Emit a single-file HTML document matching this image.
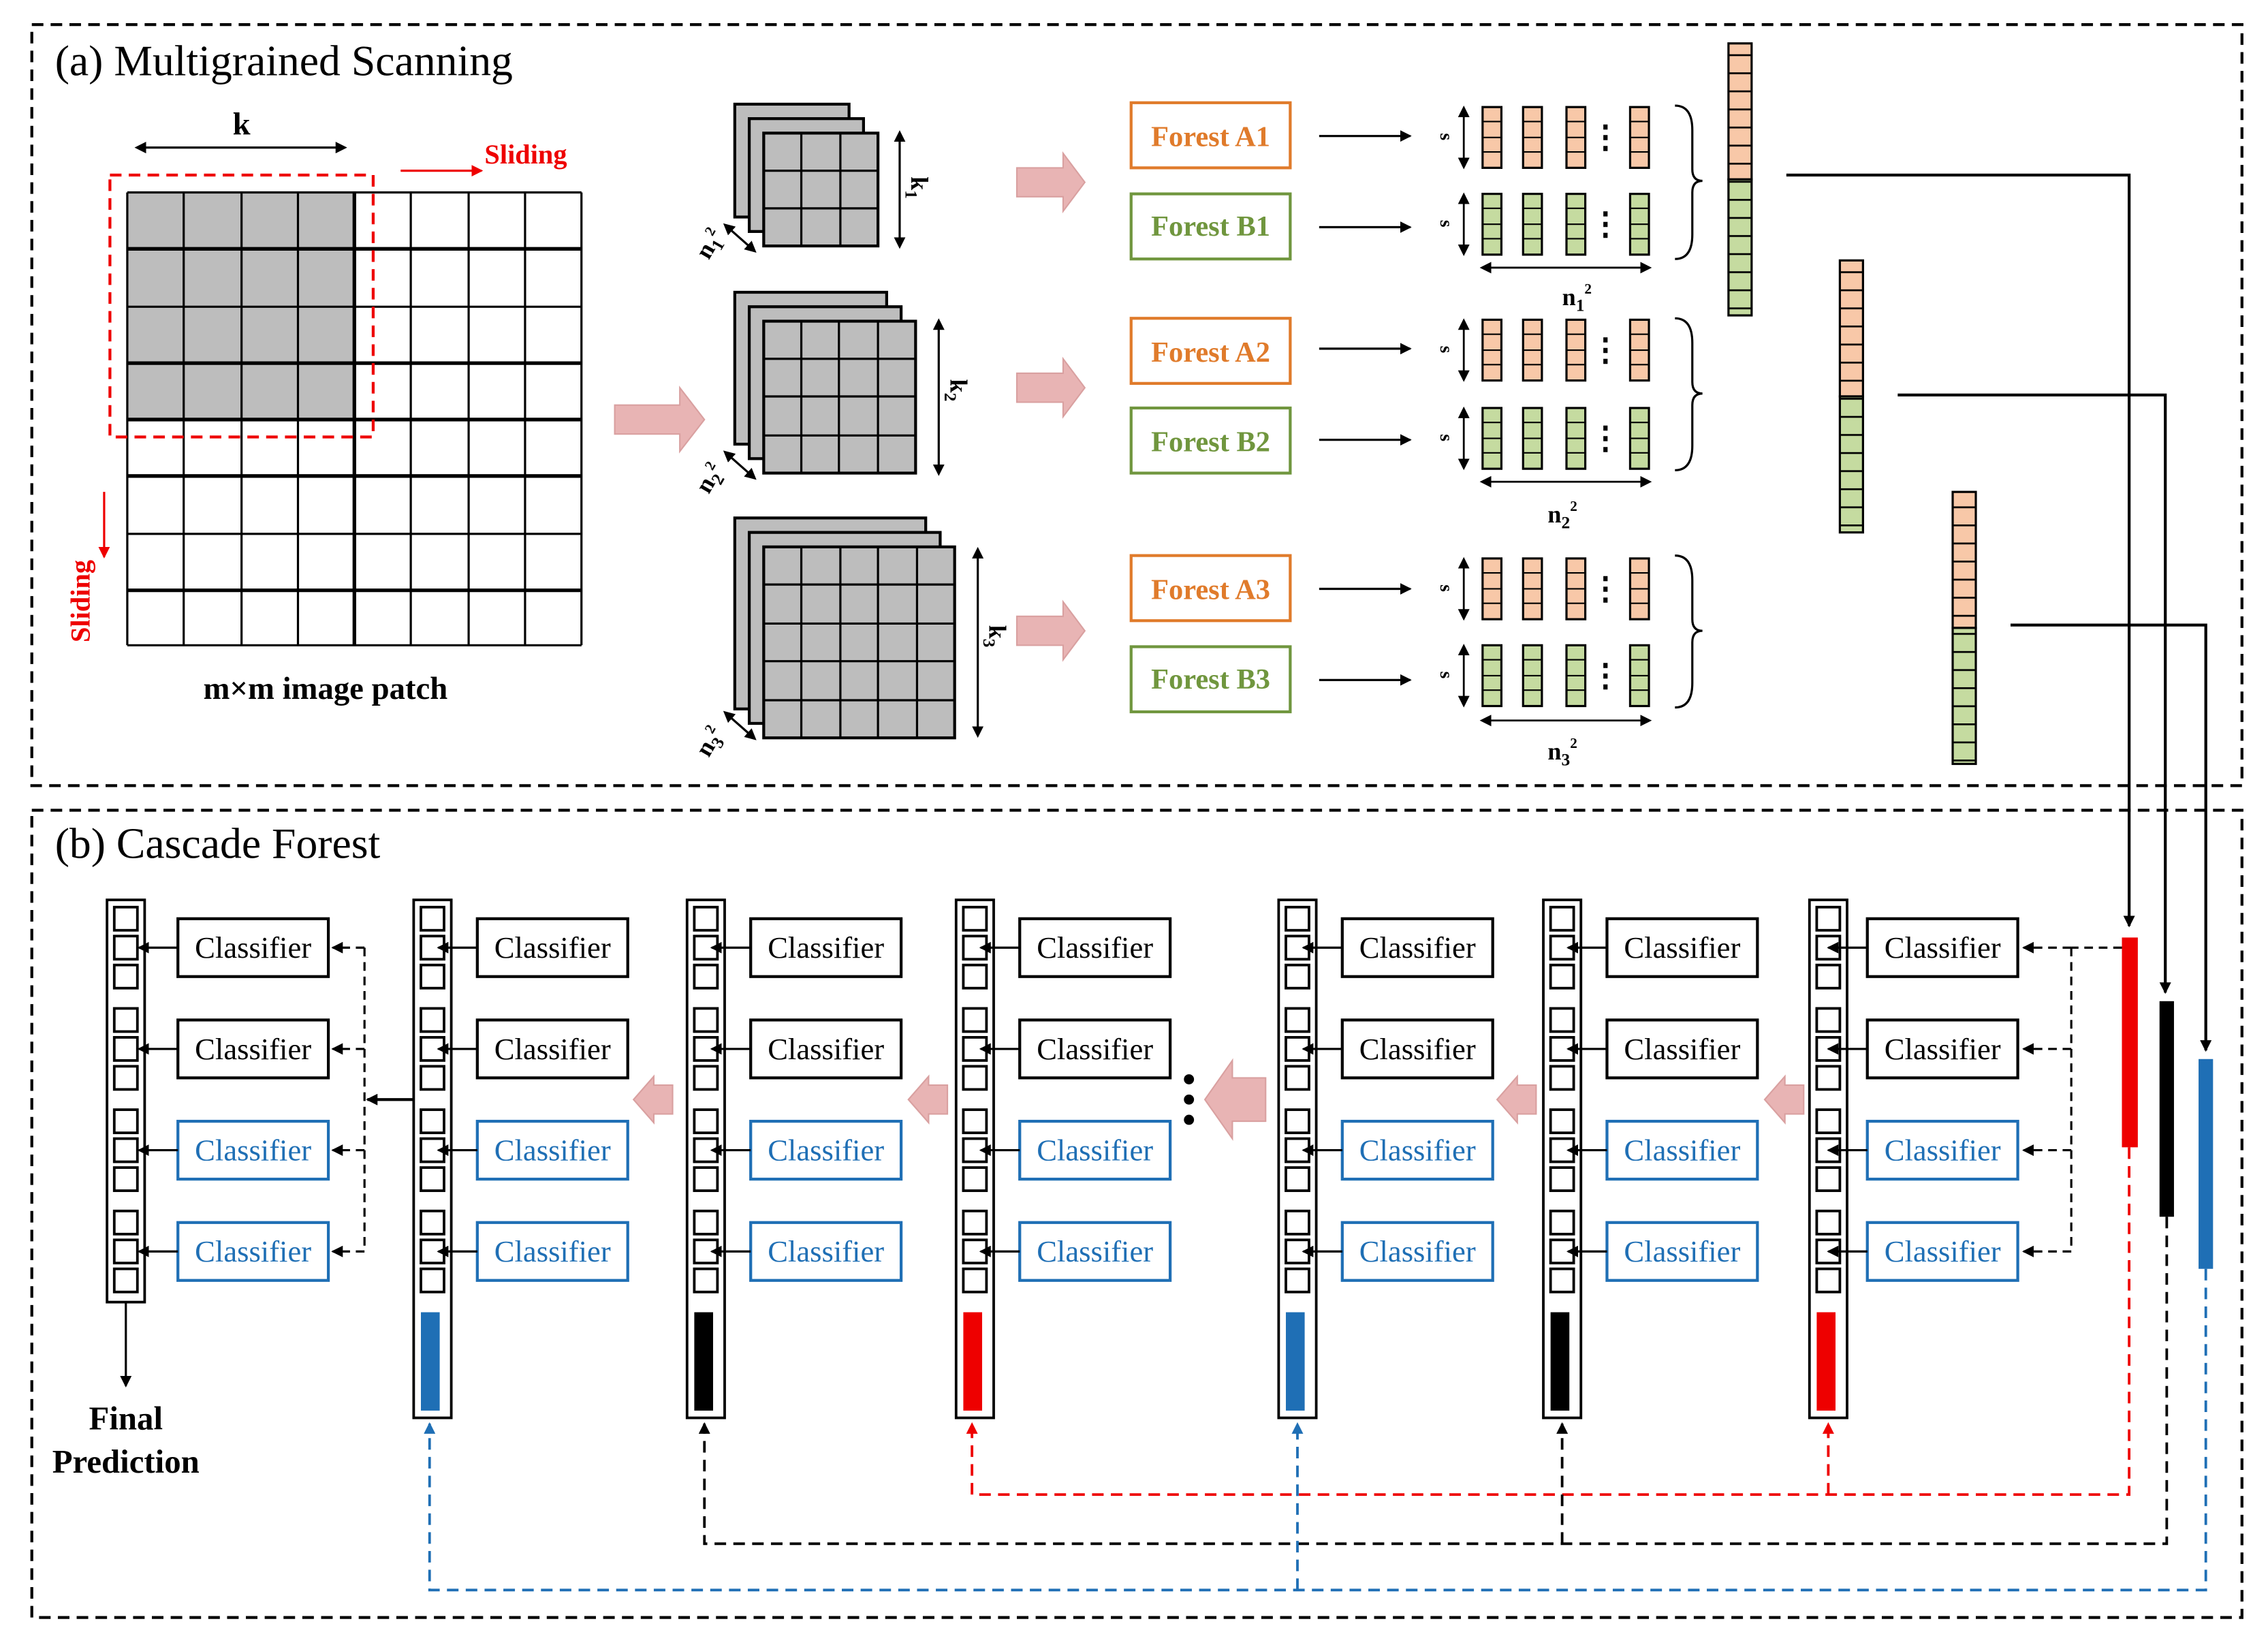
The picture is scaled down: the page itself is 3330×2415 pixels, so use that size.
<!DOCTYPE html>
<html><head><meta charset="utf-8"><style>html,body{margin:0;padding:0;background:#fff}svg{display:block}</style></head><body>
<svg xmlns="http://www.w3.org/2000/svg" width="3330" height="2415" viewBox="0 0 1568 1137" preserveAspectRatio="none" font-family="Liberation Serif, serif">
<defs>
<marker id="ah" markerWidth="8" markerHeight="8" refX="7" refY="4" orient="auto" markerUnits="userSpaceOnUse"><path d="M0,0 L8,4 L0,8 z" fill="#000"/></marker>
<marker id="ahr" markerWidth="8" markerHeight="8" refX="7" refY="4" orient="auto" markerUnits="userSpaceOnUse"><path d="M0,0 L8,4 L0,8 z" fill="#e00"/></marker>
<marker id="ahb" markerWidth="8" markerHeight="8" refX="7" refY="4" orient="auto" markerUnits="userSpaceOnUse"><path d="M0,0 L8,4 L0,8 z" fill="#1f6fb5"/></marker>
<marker id="ahs" markerWidth="8" markerHeight="8" refX="4" refY="4" orient="auto-start-reverse" markerUnits="userSpaceOnUse"><path d="M0,0 L8,4 L0,8 z" fill="#000"/></marker>
<g id="sq"><rect x="5" y="5" width="16" height="16"/><rect x="5" y="25" width="16" height="16"/><rect x="5" y="45" width="16" height="16"/><rect x="5" y="75" width="16" height="16"/><rect x="5" y="95" width="16" height="16"/><rect x="5" y="115" width="16" height="16"/><rect x="5" y="145" width="16" height="16"/><rect x="5" y="165" width="16" height="16"/><rect x="5" y="185" width="16" height="16"/><rect x="5" y="215" width="16" height="16"/><rect x="5" y="235" width="16" height="16"/><rect x="5" y="255" width="16" height="16"/></g>
<g id="col" fill="#fff" stroke="#000" stroke-width="1.8"><rect x="0" y="0" width="26" height="358"/><use href="#sq"/></g>
<g id="cls" fill="#fff" stroke-width="2"><rect x="49" y="13" width="104" height="40" stroke="#000"/><rect x="49" y="83" width="104" height="40" stroke="#000"/><rect x="49" y="153" width="104" height="40" stroke="#1f6fb5"/><rect x="49" y="223" width="104" height="40" stroke="#1f6fb5"/>
<g stroke="#000" stroke-width="1.5"><line x1="49" y1="33" x2="22" y2="33" marker-end="url(#ah)"/><line x1="49" y1="103" x2="22" y2="103" marker-end="url(#ah)"/><line x1="49" y1="173" x2="22" y2="173" marker-end="url(#ah)"/><line x1="49" y1="243" x2="22" y2="243" marker-end="url(#ah)"/></g></g>
<g id="bars"><rect x="0" y="0" width="13" height="42" fill="#f8c8a8" stroke="#000" stroke-width="1.5"/><line x1="0" y1="10" x2="13" y2="10" stroke="#000"/><line x1="0" y1="21" x2="13" y2="21" stroke="#000"/><line x1="0" y1="31" x2="13" y2="31" stroke="#000"/></g>
<g id="gbars"><rect x="0" y="0" width="13" height="42" fill="#c5dba0" stroke="#000" stroke-width="1.5"/><line x1="0" y1="10" x2="13" y2="10" stroke="#000"/><line x1="0" y1="21" x2="13" y2="21" stroke="#000"/><line x1="0" y1="31" x2="13" y2="31" stroke="#000"/></g>
<g id="vrow"><use href="#bars" x="1025"/><use href="#bars" x="1053"/><use href="#bars" x="1083"/><use href="#bars" x="1127"/></g>
<g id="gvrow"><use href="#gbars" x="1025"/><use href="#gbars" x="1053"/><use href="#gbars" x="1083"/><use href="#gbars" x="1127"/></g>
<pattern id="vo" width="2000" height="12.5" patternUnits="userSpaceOnUse"><rect width="2000" height="12.5" fill="#f8c8a8"/><line x1="0" y1="0.5" x2="2000" y2="0.5" stroke="#000" stroke-width="1.5"/></pattern>
<pattern id="vg" width="2000" height="12.5" patternUnits="userSpaceOnUse"><rect width="2000" height="12.5" fill="#c5dba0"/><line x1="0" y1="0.5" x2="2000" y2="0.5" stroke="#000" stroke-width="1.5"/></pattern>
</defs>
<rect width="1568" height="1137" fill="#fff"/>
<rect x="22" y="17" width="1528" height="526" fill="none" stroke="#000" stroke-width="2" stroke-dasharray="8,5"/>
<rect x="22" y="560" width="1528" height="558" fill="none" stroke="#000" stroke-width="2" stroke-dasharray="8,5"/>
<text x="38" y="52" font-size="30">(a) Multigrained Scanning</text>
<text x="38" y="593" font-size="30">(b) Cascade Forest</text>

<rect x="88" y="133" width="157" height="157" fill="#bdbdbd"/>
<g stroke="#000" stroke-width="1.5">
<line x1="88" y1="133" x2="88" y2="446"/><line x1="127" y1="133" x2="127" y2="446"/><line x1="167" y1="133" x2="167" y2="446"/><line x1="206" y1="133" x2="206" y2="446"/><line x1="245" y1="133" x2="245" y2="446" stroke-width="2.5"/><line x1="284" y1="133" x2="284" y2="446"/><line x1="324" y1="133" x2="324" y2="446"/><line x1="363" y1="133" x2="363" y2="446"/><line x1="402" y1="133" x2="402" y2="446"/>
<line x1="88" y1="133" x2="402" y2="133"/><line x1="88" y1="172" x2="402" y2="172" stroke-width="2.5"/><line x1="88" y1="212" x2="402" y2="212"/><line x1="88" y1="251" x2="402" y2="251" stroke-width="2.5"/><line x1="88" y1="290" x2="402" y2="290" stroke-width="2.5"/><line x1="88" y1="329" x2="402" y2="329" stroke-width="2.5"/><line x1="88" y1="369" x2="402" y2="369"/><line x1="88" y1="408" x2="402" y2="408" stroke-width="2.5"/><line x1="88" y1="446" x2="402" y2="446"/>
</g>
<rect x="76" y="121" width="182" height="181" fill="none" stroke="#e00" stroke-width="2" stroke-dasharray="8,5"/>
<line x1="97" y1="102" x2="236" y2="102" stroke="#000" stroke-width="1.5" marker-start="url(#ahs)" marker-end="url(#ahs)"/>
<text x="167" y="93" font-size="22" font-weight="bold" text-anchor="middle">k</text>
<line x1="277" y1="118" x2="333" y2="118" stroke="#e00" stroke-width="1.5" marker-end="url(#ahr)"/>
<text x="335" y="113" font-size="19" font-weight="bold" fill="#e00">Sliding</text>
<line x1="72" y1="340" x2="72" y2="385" stroke="#e00" stroke-width="1.5" marker-end="url(#ahr)"/>
<text x="0" y="0" font-size="19" font-weight="bold" fill="#e00" transform="translate(62,444) rotate(-90)">Sliding</text>
<text x="225" y="483" font-size="22" font-weight="bold" text-anchor="middle">m×m image patch</text>
<path d="M425,280 L470,280 L470,268 L487,290 L470,312 L470,300 L425,300 z" fill="#e8b4b4" stroke="#d9a0a0"/>

<g fill="#bdbdbd" stroke="#000" stroke-width="2">
<rect x="508" y="72" width="79" height="78"/><rect x="518" y="82" width="79" height="78"/><rect x="528" y="92" width="79" height="78"/>
<rect x="508" y="202" width="105" height="105"/><rect x="518" y="212" width="105" height="105"/><rect x="528" y="222" width="105" height="105"/>
<rect x="508" y="358" width="132" height="132"/><rect x="518" y="368" width="132" height="132"/><rect x="528" y="378" width="132" height="132"/>
</g>
<g stroke="#000" stroke-width="1.5">
<line x1="554" y1="92" x2="554" y2="170"/><line x1="581" y1="92" x2="581" y2="170"/><line x1="528" y1="118" x2="607" y2="118"/><line x1="528" y1="144" x2="607" y2="144"/>
<line x1="554" y1="222" x2="554" y2="327"/><line x1="580" y1="222" x2="580" y2="327"/><line x1="607" y1="222" x2="607" y2="327"/><line x1="528" y1="248" x2="633" y2="248"/><line x1="528" y1="274" x2="633" y2="274"/><line x1="528" y1="301" x2="633" y2="301"/>
<line x1="554" y1="378" x2="554" y2="510"/><line x1="581" y1="378" x2="581" y2="510"/><line x1="607" y1="378" x2="607" y2="510"/><line x1="634" y1="378" x2="634" y2="510"/><line x1="528" y1="404" x2="660" y2="404"/><line x1="528" y1="431" x2="660" y2="431"/><line x1="528" y1="457" x2="660" y2="457"/><line x1="528" y1="484" x2="660" y2="484"/>
<line x1="622" y1="94" x2="622" y2="168" marker-start="url(#ahs)" marker-end="url(#ahs)"/>
<line x1="649" y1="224" x2="649" y2="325" marker-start="url(#ahs)" marker-end="url(#ahs)"/>
<line x1="676" y1="382" x2="676" y2="506" marker-start="url(#ahs)" marker-end="url(#ahs)"/>
<line x1="503" y1="157" x2="520" y2="172" marker-start="url(#ahs)" marker-end="url(#ahs)"/>
<line x1="503" y1="314" x2="520" y2="329" marker-start="url(#ahs)" marker-end="url(#ahs)"/>
<line x1="503" y1="494" x2="520" y2="509" marker-start="url(#ahs)" marker-end="url(#ahs)"/>
</g>
<g font-size="17" font-weight="bold">
<text transform="translate(630,122) rotate(90)">k<tspan font-size="12" dy="4">1</tspan></text>
<text transform="translate(657,262) rotate(90)">k<tspan font-size="12" dy="4">2</tspan></text>
<text transform="translate(684,432) rotate(90)">k<tspan font-size="12" dy="4">3</tspan></text>
<text transform="translate(490,180) rotate(-60)">n<tspan font-size="12" dy="4">1</tspan><tspan font-size="10" dy="-10">2</tspan></text>
<text transform="translate(490,342) rotate(-60)">n<tspan font-size="12" dy="4">2</tspan><tspan font-size="10" dy="-10">2</tspan></text>
<text transform="translate(490,524) rotate(-60)">n<tspan font-size="12" dy="4">3</tspan><tspan font-size="10" dy="-10">2</tspan></text>
</g>
<g fill="#e8b4b4" stroke="#d9a0a0">
<path d="M703,116 L735,116 L735,106 L750,126 L735,146 L735,136 L703,136 z"/>
<path d="M703,258 L735,258 L735,248 L750,268 L735,288 L735,278 L703,278 z"/>
<path d="M703,426 L735,426 L735,416 L750,436 L735,456 L735,446 L703,446 z"/>
</g>

<g fill="#fff" stroke-width="2">
<rect x="782" y="71" width="110" height="45" stroke="#e07b2b"/><rect x="782" y="134" width="110" height="45" stroke="#70963e"/>
<rect x="782" y="220" width="110" height="45" stroke="#e07b2b"/><rect x="782" y="282" width="110" height="45" stroke="#70963e"/>
<rect x="782" y="384" width="110" height="45" stroke="#e07b2b"/><rect x="782" y="447" width="110" height="45" stroke="#70963e"/>
</g>
<g font-size="20" font-weight="bold" text-anchor="middle">
<text x="837" y="101" fill="#e07b2b">Forest A1</text><text x="837" y="163" fill="#70963e">Forest B1</text>
<text x="837" y="250" fill="#e07b2b">Forest A2</text><text x="837" y="312" fill="#70963e">Forest B2</text>
<text x="837" y="414" fill="#e07b2b">Forest A3</text><text x="837" y="476" fill="#70963e">Forest B3</text>
</g>
<g stroke="#000" stroke-width="1.5">
<line x1="912" y1="94" x2="975" y2="94" marker-end="url(#ah)"/><line x1="912" y1="157" x2="975" y2="157" marker-end="url(#ah)"/>
<line x1="912" y1="241" x2="975" y2="241" marker-end="url(#ah)"/><line x1="912" y1="304" x2="975" y2="304" marker-end="url(#ah)"/>
<line x1="912" y1="407" x2="975" y2="407" marker-end="url(#ah)"/><line x1="912" y1="470" x2="975" y2="470" marker-end="url(#ah)"/>
</g>
<use href="#vrow" y="74"/><use href="#gvrow" y="134"/>
<use href="#vrow" y="221"/><use href="#gvrow" y="282"/>
<use href="#vrow" y="386"/><use href="#gvrow" y="446"/>
<g stroke="#000" stroke-width="1.3">
<line x1="1012" y1="77" x2="1012" y2="113" marker-start="url(#ahs)" marker-end="url(#ahs)"/><line x1="1012" y1="137" x2="1012" y2="173" marker-start="url(#ahs)" marker-end="url(#ahs)"/>
<line x1="1012" y1="224" x2="1012" y2="260" marker-start="url(#ahs)" marker-end="url(#ahs)"/><line x1="1012" y1="285" x2="1012" y2="321" marker-start="url(#ahs)" marker-end="url(#ahs)"/>
<line x1="1012" y1="389" x2="1012" y2="425" marker-start="url(#ahs)" marker-end="url(#ahs)"/><line x1="1012" y1="449" x2="1012" y2="485" marker-start="url(#ahs)" marker-end="url(#ahs)"/>
<line x1="1027" y1="185" x2="1138" y2="185" marker-start="url(#ahs)" marker-end="url(#ahs)"/>
<line x1="1027" y1="333" x2="1138" y2="333" marker-start="url(#ahs)" marker-end="url(#ahs)"/>
<line x1="1027" y1="498" x2="1138" y2="498" marker-start="url(#ahs)" marker-end="url(#ahs)"/>
</g>
<g font-size="13" font-weight="bold">
<text transform="translate(996,92) rotate(90)">s</text><text transform="translate(996,152) rotate(90)">s</text>
<text transform="translate(996,239) rotate(90)">s</text><text transform="translate(996,300) rotate(90)">s</text>
<text transform="translate(996,404) rotate(90)">s</text><text transform="translate(996,464) rotate(90)">s</text>
</g>
<g font-size="22" font-weight="bold" text-anchor="middle"><text x="1110" y="102">⋮</text><text x="1110" y="162">⋮</text><text x="1110" y="249">⋮</text><text x="1110" y="310">⋮</text><text x="1110" y="414">⋮</text><text x="1110" y="474">⋮</text></g>
<g font-size="17" font-weight="bold">
<text x="1080" y="211">n<tspan font-size="12" dy="4">1</tspan><tspan font-size="10" dy="-12">2</tspan></text>
<text x="1070" y="361">n<tspan font-size="12" dy="4">2</tspan><tspan font-size="10" dy="-12">2</tspan></text>
<text x="1070" y="525">n<tspan font-size="12" dy="4">3</tspan><tspan font-size="10" dy="-12">2</tspan></text>
</g>
<g fill="none" stroke="#000" stroke-width="1.5">
<path d="M1158,73 Q1170,73 1170,90 L1170,117 Q1170,125 1177,125 Q1170,125 1170,133 L1170,162 Q1170,179 1158,179"/>
<path d="M1158,220 Q1170,220 1170,237 L1170,264 Q1170,272 1177,272 Q1170,272 1170,280 L1170,308 Q1170,325 1158,325"/>
<path d="M1158,384 Q1170,384 1170,401 L1170,428 Q1170,436 1177,436 Q1170,436 1170,444 L1170,472 Q1170,489 1158,489"/>
</g>
<rect x="1195" y="30" width="16" height="94" fill="url(#vo)" stroke="#000" stroke-width="1.5"/><rect x="1195" y="124" width="16" height="94" fill="url(#vg)" stroke="#000" stroke-width="1.5"/>
<rect x="1272" y="180" width="16" height="94" fill="url(#vo)" stroke="#000" stroke-width="1.5"/><rect x="1272" y="274" width="16" height="94" fill="url(#vg)" stroke="#000" stroke-width="1.5"/>
<rect x="1350" y="340" width="16" height="94" fill="url(#vo)" stroke="#000" stroke-width="1.5"/><rect x="1350" y="434" width="16" height="94" fill="url(#vg)" stroke="#000" stroke-width="1.5"/>
<g fill="none" stroke="#000" stroke-width="2">
<polyline points="1235,121 1472,121 1472,640" marker-end="url(#ah)"/>
<polyline points="1312,273 1497,273 1497,686" marker-end="url(#ah)"/>
<polyline points="1390,432 1525,432 1525,726" marker-end="url(#ah)"/>
</g>
<rect x="1467" y="648" width="11" height="145" fill="#e00"/>
<rect x="1493" y="692" width="10" height="149" fill="#000"/>
<rect x="1520" y="732" width="10" height="145" fill="#1f6fb5"/>

<g fill="#fff" stroke="#000" stroke-width="1.8"><rect x="74" y="622" width="26" height="278"/><use href="#sq" x="74" y="622"/></g>
<use href="#col" x="286" y="622"/><use href="#col" x="475" y="622"/><use href="#col" x="661" y="622"/><use href="#col" x="884" y="622"/><use href="#col" x="1067" y="622"/><use href="#col" x="1251" y="622"/>
<rect x="291" y="907" width="13" height="68" fill="#1f6fb5"/><rect x="480" y="907" width="13" height="68" fill="#000"/><rect x="666" y="907" width="13" height="68" fill="#e00"/>
<rect x="889" y="907" width="13" height="68" fill="#1f6fb5"/><rect x="1072" y="907" width="13" height="68" fill="#000"/><rect x="1256" y="907" width="13" height="68" fill="#e00"/>
<use href="#cls" x="74" y="622"/><use href="#cls" x="281" y="622"/><use href="#cls" x="470" y="622"/><use href="#cls" x="656" y="622"/><use href="#cls" x="879" y="622"/><use href="#cls" x="1062" y="622"/><use href="#cls" x="1242" y="622"/>
<g font-size="21" text-anchor="middle">
<text x="175" y="662">Classifier</text><text x="175" y="732">Classifier</text><text x="175" y="802" fill="#1f6fb5">Classifier</text><text x="175" y="872" fill="#1f6fb5">Classifier</text>
<text x="382" y="662">Classifier</text><text x="382" y="732">Classifier</text><text x="382" y="802" fill="#1f6fb5">Classifier</text><text x="382" y="872" fill="#1f6fb5">Classifier</text>
<text x="571" y="662">Classifier</text><text x="571" y="732">Classifier</text><text x="571" y="802" fill="#1f6fb5">Classifier</text><text x="571" y="872" fill="#1f6fb5">Classifier</text>
<text x="757" y="662">Classifier</text><text x="757" y="732">Classifier</text><text x="757" y="802" fill="#1f6fb5">Classifier</text><text x="757" y="872" fill="#1f6fb5">Classifier</text>
<text x="980" y="662">Classifier</text><text x="980" y="732">Classifier</text><text x="980" y="802" fill="#1f6fb5">Classifier</text><text x="980" y="872" fill="#1f6fb5">Classifier</text>
<text x="1163" y="662">Classifier</text><text x="1163" y="732">Classifier</text><text x="1163" y="802" fill="#1f6fb5">Classifier</text><text x="1163" y="872" fill="#1f6fb5">Classifier</text>
<text x="1343" y="662">Classifier</text><text x="1343" y="732">Classifier</text><text x="1343" y="802" fill="#1f6fb5">Classifier</text><text x="1343" y="872" fill="#1f6fb5">Classifier</text>
</g>
<g fill="none" stroke="#000" stroke-width="1.5" stroke-dasharray="6,4">
<line x1="252" y1="655" x2="252" y2="865"/>
<line x1="252" y1="655" x2="230" y2="655" marker-end="url(#ah)"/><line x1="252" y1="725" x2="230" y2="725" marker-end="url(#ah)"/><line x1="252" y1="795" x2="230" y2="795" marker-end="url(#ah)"/><line x1="252" y1="865" x2="230" y2="865" marker-end="url(#ah)"/>
<line x1="1432" y1="655" x2="1432" y2="865"/><line x1="1467" y1="655" x2="1432" y2="655"/>
<line x1="1432" y1="655" x2="1399" y2="655" marker-end="url(#ah)"/><line x1="1432" y1="725" x2="1399" y2="725" marker-end="url(#ah)"/><line x1="1432" y1="795" x2="1399" y2="795" marker-end="url(#ah)"/><line x1="1432" y1="865" x2="1399" y2="865" marker-end="url(#ah)"/>
</g>
<line x1="286" y1="760" x2="254" y2="760" stroke="#000" stroke-width="2" marker-end="url(#ah)"/>
<line x1="87" y1="900" x2="87" y2="958" stroke="#000" stroke-width="1.5" marker-end="url(#ah)"/>
<text x="87" y="988" font-size="23" font-weight="bold" text-anchor="middle">Final</text>
<text x="87" y="1018" font-size="23" font-weight="bold" text-anchor="middle">Prediction</text>
<g fill="#e8b4b4" stroke="#d9a0a0">
<path d="M465,750 L452,750 L452,744 L438,760 L452,776 L452,770 L465,770 z"/>
<path d="M655,750 L642,750 L642,744 L628,760 L642,776 L642,770 L655,770 z"/>
<path d="M875,745 L852,745 L852,733 L833,760 L852,787 L852,775 L875,775 z"/>
<path d="M1062,750 L1049,750 L1049,744 L1035,760 L1049,776 L1049,770 L1062,770 z"/>
<path d="M1247,750 L1234,750 L1234,744 L1220,760 L1234,776 L1234,770 L1247,770 z"/>
</g>
<circle cx="822" cy="746" r="3.5"/><circle cx="822" cy="760" r="3.5"/><circle cx="822" cy="774" r="3.5"/>
<g fill="none" stroke-width="1.8" stroke-dasharray="8,5">
<polyline points="1472,793 1472,1033 672,1033 672,984" stroke="#e00" marker-end="url(#ahr)"/>
<polyline points="1264,1033 1264,984" stroke="#e00" marker-end="url(#ahr)"/>
<polyline points="1498,841 1498,1067 487,1067 487,984" stroke="#000" marker-end="url(#ah)"/>
<polyline points="1080,1067 1080,984" stroke="#000" marker-end="url(#ah)"/>
<polyline points="1525,877 1525,1099 297,1099 297,984" stroke="#1f6fb5" marker-end="url(#ahb)"/>
<polyline points="897,1099 897,984" stroke="#1f6fb5" marker-end="url(#ahb)"/>
</g>
</svg>
</body></html>
